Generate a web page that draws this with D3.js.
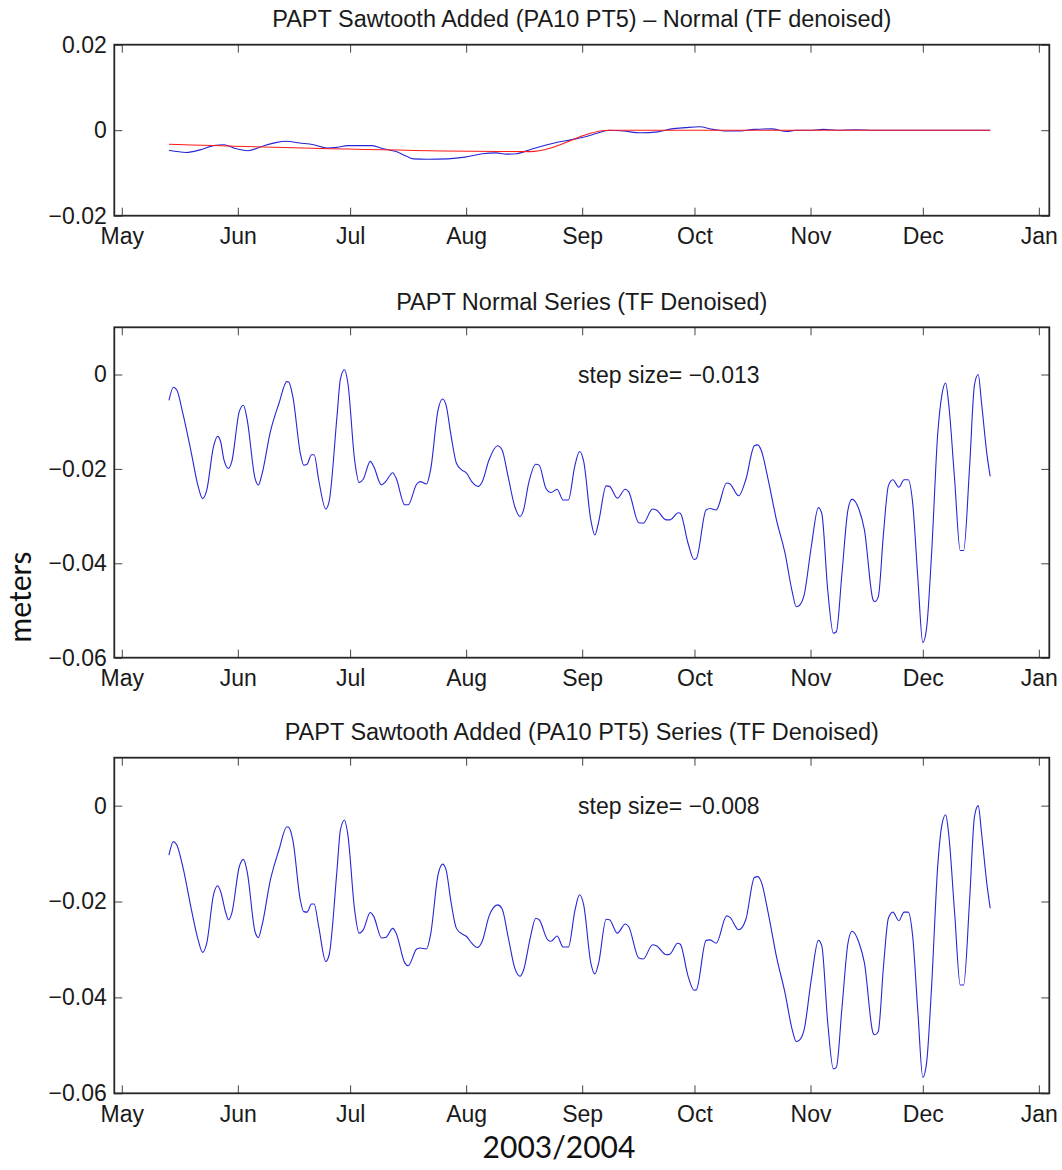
<!DOCTYPE html>
<html>
<head>
<meta charset="utf-8">
<script src="https://cdn.jsdelivr.net/npm/d3@7"></script>
<style>
  html, body { margin: 0; padding: 0; background: #fff; }
  svg { display: block; }
  .axis text { font-family: "Liberation Sans", Arial, Helvetica, sans-serif; font-size: 23px; fill: #1a1a1a; }
  .axis line { stroke: #444; stroke-width: 1; }
  .axis .domain { display: none; }
</style>
</head>
<body>
<svg id="chart" width="1062" height="1170"></svg>
<script>
// ---- data: [days since 1 May 2003, metres] ----
const titles = [
  "PAPT Sawtooth Added (PA10 PT5) \u2013 Normal (TF denoised)",
  "PAPT Normal Series (TF Denoised)",
  "PAPT Sawtooth Added (PA10 PT5) Series (TF Denoised)"
];
const stepLabels = ["step size= \u22120.013", "step size= \u22120.008"];

const monthLabels = ["May", "Jun", "Jul", "Aug", "Sep", "Oct", "Nov", "Dec", "Jan"];
const monthDates = [
  [2003, 4], [2003, 5], [2003, 6], [2003, 7], [2003, 8], [2003, 9], [2003, 10], [2003, 11], [2004, 0]
];
const topTicks = [0.02, 0, -0.02];
const topTickLabels = ["0.02", "0", "\u22120.02"];
const seriesTicks = [0, -0.02, -0.04, -0.06];
const seriesTickLabels = ["0", "\u22120.02", "\u22120.04", "\u22120.06"];

// difference between sawtooth-added and normal series
const differenceSeries = [
  [12.6,-0.0047],[17.2,-0.0052],[20.9,-0.0046],[24.5,-0.0036],[27.3,-0.0034],[30.0,-0.0042],
  [33.7,-0.0048],[37.4,-0.0038],[41.1,-0.0029],[43.9,-0.0026],[47.5,-0.0030],[51.2,-0.0034],
  [54.9,-0.0042],[57.6,-0.0040],[60.4,-0.0036],[64.1,-0.0036],[66.9,-0.0036],[69.6,-0.0043],
  [73.3,-0.0050],[76.1,-0.0061],[77.9,-0.0067],[81.6,-0.0068],[87.1,-0.0067],[91.7,-0.0063],
  [96.3,-0.0055],[100.0,-0.0053],[102.7,-0.0056],[105.5,-0.0055],[109.2,-0.0045],[111.9,-0.0038],
  [115.6,-0.0030],[120.2,-0.0022],[124.8,-0.0013],[128.5,-0.0003],[130.3,0.0000],[134.0,-0.0002],
  [138.6,-0.0006],[143.2,-0.0004],[146.9,0.0003],[150.6,0.0006],[154.3,0.0008],[157.9,0.0002],
  [161.6,-0.0002],[164.4,-0.0002],[169.0,0.0002],[173.6,0.0003],[177.7,-0.0003],[180.0,0.0000],
  [184.6,0.0000],[187.4,0.0002],[191.0,0.0000],[196.0,0.0001],[201.0,0.0000],[210.0,0.0000],
  [232.0,0.0000]
];

// imposed sawtooth
const sawtoothRamp = [[12.6,-0.0033],[109.0,-0.0050],[130.3,0.0000],[232.0,0.0000]];

const normalSeries = [
  [12.6,-0.0055],[13.8,-0.0027],[14.7,-0.0033],[16.3,-0.0082],[18.6,-0.0167],[20.4,-0.0237],
  [21.6,-0.0263],[22.7,-0.0245],[24.5,-0.0153],[25.6,-0.0131],[26.4,-0.0142],[27.3,-0.0181],
  [28.5,-0.0199],[29.4,-0.0184],[31.4,-0.0078],[32.5,-0.0065],[33.5,-0.0096],[35.6,-0.0220],
  [36.5,-0.0234],[37.4,-0.0213],[39.7,-0.0121],[42.0,-0.0061],[44.1,-0.0015],[44.6,-0.0016],
  [45.7,-0.0047],[47.7,-0.0167],[48.6,-0.0192],[49.5,-0.0190],[50.7,-0.0170],[51.4,-0.0170],
  [52.6,-0.0223],[54.5,-0.0285],[55.4,-0.0269],[57.5,-0.0088],[58.4,-0.0010],[59.5,0.0010],
  [60.4,-0.0018],[62.2,-0.0181],[63.4,-0.0229],[64.5,-0.0222],[66.4,-0.0184],[67.3,-0.0195],
  [69.4,-0.0234],[70.5,-0.0227],[72.4,-0.0208],[73.3,-0.0220],[75.6,-0.0276],[76.5,-0.0276],
  [78.8,-0.0232],[79.7,-0.0227],[81.4,-0.0232],[82.5,-0.0202],[84.5,-0.0075],[85.7,-0.0052],
  [86.6,-0.0064],[88.0,-0.0131],[89.4,-0.0188],[90.8,-0.0202],[92.1,-0.0209],[93.5,-0.0227],
  [95.2,-0.0237],[96.3,-0.0227],[98.1,-0.0181],[100.4,-0.0151],[101.6,-0.0160],[103.2,-0.0216],
  [105.0,-0.0280],[106.4,-0.0301],[107.3,-0.0288],[108.7,-0.0230],[110.6,-0.0190],[111.5,-0.0192],
  [113.3,-0.0241],[114.7,-0.0250],[116.3,-0.0243],[117.9,-0.0266],[119.3,-0.0266],[121.0,-0.0195],
  [122.3,-0.0163],[123.4,-0.0184],[125.3,-0.0308],[126.4,-0.0340],[127.4,-0.0312],[129.4,-0.0236],
  [130.3,-0.0237],[132.4,-0.0262],[134.5,-0.0243],[135.4,-0.0248],[138.1,-0.0314],[139.3,-0.0315],
  [141.8,-0.0285],[142.8,-0.0287],[145.5,-0.0308],[146.4,-0.0308],[148.7,-0.0293],[149.2,-0.0294],
  [151.3,-0.0358],[152.9,-0.0392],[153.5,-0.0390],[156.1,-0.0287],[157.2,-0.0284],[158.8,-0.0287],
  [161.6,-0.0230],[162.5,-0.0232],[164.8,-0.0257],[166.7,-0.0223],[169.0,-0.0151],[169.9,-0.0149],
  [170.8,-0.0160],[172.7,-0.0223],[174.9,-0.0308],[177.2,-0.0379],[179.1,-0.0460],[180.2,-0.0492],
  [180.9,-0.0490],[182.3,-0.0467],[184.2,-0.0365],[186.1,-0.0282],[187.0,-0.0294],[188.6,-0.0457],
  [190.1,-0.0548],[190.9,-0.0545],[192.4,-0.0421],[194.0,-0.0287],[195.1,-0.0264],[197.0,-0.0287],
  [198.4,-0.0329],[200.7,-0.0477],[201.2,-0.0481],[202.1,-0.0471],[203.5,-0.0336],[204.8,-0.0236],
  [206.0,-0.0223],[207.6,-0.0239],[209.0,-0.0223],[210.1,-0.0223],[211.3,-0.0273],[212.7,-0.0435],
  [214.0,-0.0568],[215.0,-0.0538],[216.3,-0.0386],[218.0,-0.0124],[219.1,-0.0043],[220.1,-0.0018],
  [220.9,-0.0061],[222.5,-0.0223],[224.0,-0.0373],[224.9,-0.0373],[226.5,-0.0195],[227.8,-0.0022],
  [228.8,0.0000],[229.7,-0.0061],[231.1,-0.0167],[232.0,-0.0216]
];

const sawtoothSeries = [
  [12.6,-0.0103],[13.8,-0.0075],[14.7,-0.0082],[16.3,-0.0127],[18.6,-0.0217],[20.4,-0.0280],
  [21.6,-0.0306],[22.7,-0.0287],[24.5,-0.0186],[25.6,-0.0167],[26.4,-0.0179],[27.8,-0.0224],
  [28.5,-0.0238],[29.4,-0.0224],[31.4,-0.0127],[32.5,-0.0112],[33.5,-0.0138],[35.6,-0.0263],
  [36.5,-0.0275],[37.4,-0.0252],[39.7,-0.0155],[42.0,-0.0092],[44.1,-0.0044],[44.6,-0.0045],
  [45.7,-0.0072],[47.7,-0.0197],[48.6,-0.0221],[49.5,-0.0222],[50.7,-0.0205],[51.4,-0.0205],
  [52.6,-0.0252],[54.5,-0.0325],[55.4,-0.0311],[57.5,-0.0134],[58.4,-0.0051],[59.5,-0.0030],
  [60.4,-0.0061],[62.2,-0.0217],[63.4,-0.0266],[64.5,-0.0259],[66.4,-0.0223],[67.3,-0.0231],
  [69.4,-0.0276],[70.5,-0.0275],[72.4,-0.0256],[73.3,-0.0266],[75.6,-0.0328],[76.5,-0.0334],
  [78.8,-0.0299],[79.7,-0.0297],[81.4,-0.0299],[82.5,-0.0269],[84.5,-0.0144],[85.7,-0.0122],
  [86.6,-0.0133],[88.0,-0.0203],[89.4,-0.0256],[90.8,-0.0267],[92.1,-0.0273],[93.5,-0.0287],
  [95.0,-0.0296],[96.3,-0.0283],[98.1,-0.0231],[100.4,-0.0207],[101.6,-0.0215],[103.2,-0.0273],
  [105.0,-0.0339],[106.4,-0.0356],[107.3,-0.0344],[109.2,-0.0273],[110.6,-0.0235],[111.5,-0.0238],
  [113.8,-0.0280],[114.7,-0.0283],[116.3,-0.0272],[117.9,-0.0295],[119.3,-0.0295],[121.1,-0.0217],
  [122.3,-0.0186],[123.4,-0.0207],[125.3,-0.0328],[126.4,-0.0351],[127.4,-0.0328],[129.4,-0.0237],
  [130.3,-0.0238],[132.4,-0.0266],[134.5,-0.0247],[135.4,-0.0252],[138.1,-0.0318],[139.3,-0.0320],
  [141.8,-0.0290],[142.8,-0.0292],[145.5,-0.0311],[146.4,-0.0310],[148.5,-0.0287],[149.2,-0.0289],
  [151.3,-0.0356],[152.9,-0.0385],[153.5,-0.0384],[156.1,-0.0281],[157.2,-0.0280],[158.8,-0.0287],
  [161.6,-0.0230],[162.5,-0.0233],[164.8,-0.0259],[166.7,-0.0238],[169.0,-0.0150],[169.9,-0.0148],
  [170.8,-0.0158],[172.7,-0.0224],[174.9,-0.0315],[177.2,-0.0391],[179.1,-0.0467],[180.2,-0.0492],
  [180.9,-0.0490],[182.3,-0.0467],[184.2,-0.0363],[186.1,-0.0281],[187.0,-0.0292],[188.6,-0.0453],
  [190.1,-0.0549],[190.9,-0.0546],[192.4,-0.0422],[194.0,-0.0287],[195.1,-0.0262],[197.0,-0.0287],
  [198.4,-0.0328],[200.7,-0.0474],[201.2,-0.0478],[202.1,-0.0471],[203.5,-0.0335],[204.8,-0.0235],
  [206.0,-0.0222],[207.6,-0.0240],[209.0,-0.0222],[210.1,-0.0222],[211.3,-0.0273],[212.7,-0.0433],
  [214.0,-0.0567],[215.0,-0.0537],[216.3,-0.0384],[218.0,-0.0124],[219.1,-0.0040],[220.1,-0.0019],
  [220.9,-0.0058],[222.5,-0.0224],[224.0,-0.0374],[224.9,-0.0374],[226.5,-0.0197],[227.8,-0.0023],
  [228.8,0.0000],[229.7,-0.0058],[231.1,-0.0162],[232.0,-0.0214]
];

// ---- layout ----
const svg = d3.select("#chart");
const left = 114.3, right = 1049.3;
const origin = Date.UTC(2003, 4, 1);
const toDate = d => new Date(origin + d * 864e5);
const font = '"Liberation Sans", Arial, Helvetica, sans-serif';
const BLUE = "#2626d6", RED = "#ff1a1a";

const x = d3.scaleUtc()
  .domain([new Date(Date.UTC(2003, 3, 29)), new Date(Date.UTC(2004, 0, 3, 19))])
  .range([left, right]);
const monthTicks = monthDates.map(([y, m]) => new Date(Date.UTC(y, m, 1)));

const panels = [
  { top: 44.7, bottom: 215.7, domain: [-0.02, 0.02], ticks: topTicks, labels: topTickLabels,
    title: titles[0], lines: [{ data: differenceSeries, color: BLUE }, { data: sawtoothRamp, color: RED }] },
  { top: 327.3, bottom: 657.7, domain: [-0.06, 0.01], ticks: seriesTicks, labels: seriesTickLabels,
    title: titles[1], step: stepLabels[0], lines: [{ data: normalSeries, color: BLUE }] },
  { top: 757.7, bottom: 1093.3, domain: [-0.06, 0.01], ticks: seriesTicks, labels: seriesTickLabels,
    title: titles[2], step: stepLabels[1], lines: [{ data: sawtoothSeries, color: BLUE }] }
];

panels.forEach(p => {
  const y = d3.scaleLinear().domain(p.domain).range([p.bottom, p.top]);
  const g = svg.append("g");

  const line = d3.line()
    .x(d => x(toDate(d[0])))
    .y(d => y(d[1]))
    .curve(d3.curveMonotoneX);

  p.lines.forEach(l => {
    g.append("path")
      .attr("d", line(l.data))
      .attr("fill", "none")
      .attr("stroke", l.color)
      .attr("stroke-width", 1.1)
      .attr("stroke-linejoin", "round");
  });

  // ticks point inward on all four sides
  g.append("g").attr("class", "axis")
    .attr("transform", `translate(0,${p.bottom})`)
    .call(d3.axisBottom(x).tickValues(monthTicks)
      .tickFormat((d, i) => monthLabels[i]).tickSizeInner(-8).tickSizeOuter(0).tickPadding(12));
  g.append("g").attr("class", "axis")
    .attr("transform", `translate(0,${p.top})`)
    .call(d3.axisTop(x).tickValues(monthTicks).tickFormat("").tickSizeInner(-8).tickSizeOuter(0));
  g.append("g").attr("class", "axis")
    .attr("transform", `translate(${left},0)`)
    .call(d3.axisLeft(y).tickValues(p.ticks)
      .tickFormat((d, i) => p.labels[i]).tickSizeInner(-8).tickSizeOuter(0).tickPadding(7.5));
  g.append("g").attr("class", "axis")
    .attr("transform", `translate(${right},0)`)
    .call(d3.axisRight(y).tickValues(p.ticks).tickFormat("").tickSizeInner(-8).tickSizeOuter(0));

  g.append("rect")
    .attr("x", left).attr("y", p.top)
    .attr("width", right - left).attr("height", p.bottom - p.top)
    .attr("fill", "none").attr("stroke", "#262626").attr("stroke-width", 1.8);

  g.append("text")
    .attr("x", (left + right) / 2).attr("y", p.top - 17.5)
    .attr("text-anchor", "middle")
    .style("font-family", font).style("font-size", "23.5px").style("fill", "#1a1a1a")
    .text(p.title);

  if (p.step) {
    g.append("text")
      .attr("x", x(toDate(121.9))).attr("y", y(0)).attr("dy", "0.35em")
      .style("font-family", font).style("font-size", "23px").style("fill", "#1a1a1a")
      .text(p.step);
  }
});

// shared axis captions
svg.append("text")
  .attr("transform", "translate(31,597) rotate(-90)")
  .attr("text-anchor", "middle")
  .style("font-family", "Lato, 'Open Sans', sans-serif").style("font-size", "30px").style("fill", "#111")
  .text("meters");

svg.append("text")
  .attr("x", 559).attr("y", 1158)
  .attr("text-anchor", "middle")
  .style("font-family", "Lato, 'Open Sans', sans-serif").style("font-size", "30px").style("fill", "#111")
  .text("2003/2004");
</script>
</body>
</html>
